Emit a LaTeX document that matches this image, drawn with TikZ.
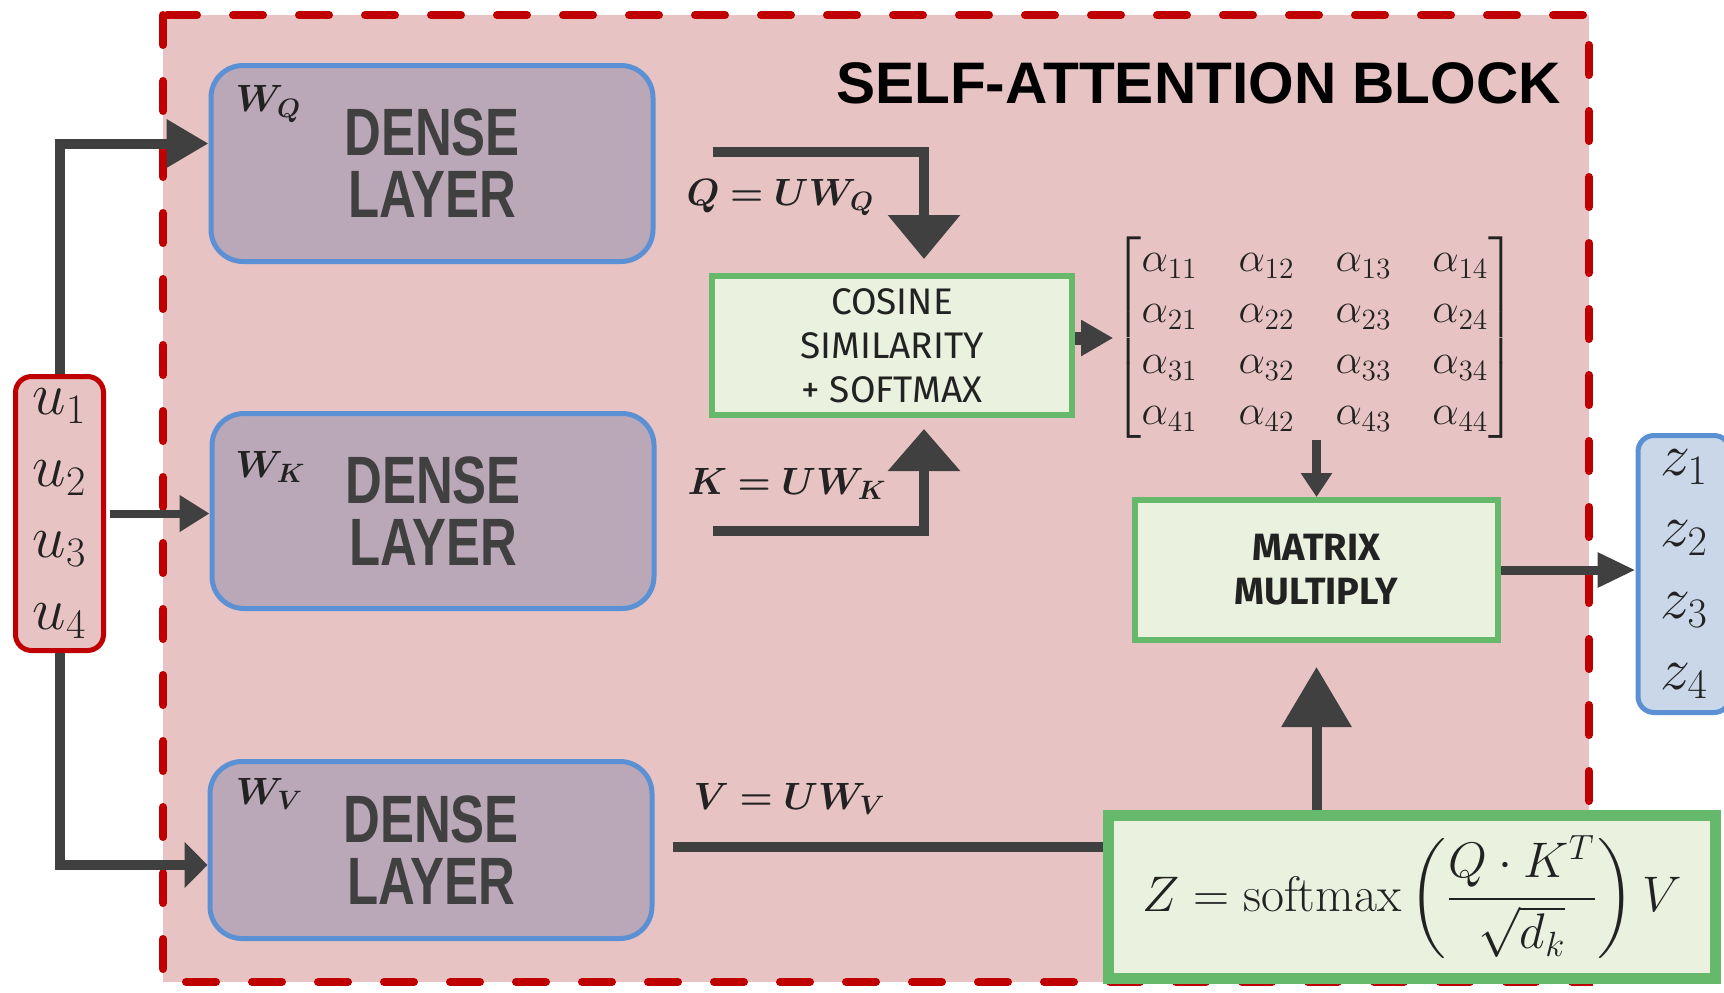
\documentclass[tikz,border=0pt]{standalone}
\usepackage{fix-cm}
\usepackage{amsmath, amssymb}
\usepackage{bm}
\usepackage{fontspec}
\usepackage{tikz}
\usetikzlibrary{arrows.meta, calc, positioning}
\newfontfamily\titlefont{Liberation Sans}
\newfontfamily\densefont[FakeStretch=0.76]{Liberation Sans}
\newfontfamily\boxfont{Fira Sans}

\definecolor{rosa}{HTML}{E8C3C3}
\definecolor{rossoBordo}{HTML}{C00000}
\definecolor{viola}{HTML}{BAA8B8}
\definecolor{blu}{HTML}{5B91D4}
\definecolor{verde}{HTML}{66B96A}
\definecolor{verdeChiaro}{HTML}{EAF1DE}
\definecolor{azzurro}{HTML}{C9D7E8}
\definecolor{grigio}{HTML}{404040}
\definecolor{inchiostro}{HTML}{222222}

\tikzset{
    dense/.style = {draw=blu, line width=2.5pt, fill=viola, rounded corners=16pt, minimum width=221pt, align=center, text=grigio, font=\densefont\bfseries\fontsize{33.5}{31}\selectfont},
    verdebox/.style = {draw=verde, line width=3pt, fill=verdeChiaro, align=center, text=inchiostro},
    vettore/.style = {line width=2.5pt, rounded corners=8pt, align=center, text=inchiostro, font=\fontsize{30}{35.7}\selectfont},
    freccia/.style = {draw=grigio, line width=5pt},
    etichetta/.style = {text=inchiostro, font=\fontsize{19}{23}\selectfont}
}

\begin{document}
\begin{tikzpicture}[x=0.5pt, y=-0.5pt]
    \useasboundingbox (0,0) rectangle (1724,992);

    % Blocco self-attention
    \draw[rossoBordo, line width=4pt, dash pattern=on 15pt off 18pt, line cap=round, fill=rosa] (163,15) rectangle (1589,982);
    \node[anchor=base east, font=\titlefont\bfseries\fontsize{29.3}{35}\selectfont] (Titolo) at (1568,103) {SELF-ATTENTION BLOCK};

    % Dense layers
    \node[dense, minimum height=98pt] (DenseQ) at (432,163.5) {DENSE\\LAYER};
    \node[dense, minimum height=97.5pt] (DenseK) at (433,511) {DENSE\\LAYER};
    \node[dense, minimum height=88.5pt] (DenseV) at (431,850) {DENSE\\LAYER};
    \node[etichetta] (PesoQ) at ([xshift=30pt,yshift=-20.5pt]DenseQ.north west) {$\bm{W_Q}$};
    \node[etichetta] (PesoK) at ([xshift=30.5pt,yshift=-28pt]DenseK.north west) {$\bm{W_K}$};
    \node[etichetta] (PesoV) at ([xshift=31pt,yshift=-17.5pt]DenseV.north west) {$\bm{W_V}$};

    % Ingresso e uscita
    \node[vettore, draw=rossoBordo, fill=rosa, minimum width=44pt, minimum height=137pt] (InU) at (59.5,513.5) {$u_1$\\$u_2$\\$u_3$\\$u_4$};
    \node[vettore, draw=blu, fill=azzurro, minimum width=46pt, minimum height=138.5pt] (OutZ) at (1684,574) {$z_1$\\$z_2$\\$z_3$\\$z_4$};

    % Blocchi verdi
    \node[verdebox, minimum width=180pt, minimum height=69.5pt, font=\boxfont\fontsize{18.5}{22}\selectfont] (Coseno) at (892,345.5) {COSINE\\SIMILARITY\\+ SOFTMAX};
    \node[verdebox, minimum width=181.5pt, minimum height=70pt, font=\boxfont\bfseries\fontsize{19}{22}\selectfont] (MatMul) at (1316.5,570) {MATRIX\\MULTIPLY};
    \node[verdebox, line width=5.5pt, minimum width=303.5pt, minimum height=81.5pt, font=\fontsize{25}{30}\selectfont] (Formula) at (1412,897) {$\displaystyle Z = \mathrm{softmax}\left(\frac{Q\cdot K^{T}}{\sqrt{d_k}}\right)V$};

    % Matrice dei pesi
    \node[inner sep=0pt, text=inchiostro, font=\fontsize{21}{25.5}\selectfont] (Alfa) at (1315,338) {\setlength\arraycolsep{10.25pt}$\begin{bmatrix}
        \alpha_{11} & \alpha_{12} & \alpha_{13} & \alpha_{14}\\
        \alpha_{21} & \alpha_{22} & \alpha_{23} & \alpha_{24}\\
        \alpha_{31} & \alpha_{32} & \alpha_{33} & \alpha_{34}\\
        \alpha_{41} & \alpha_{42} & \alpha_{43} & \alpha_{44}
    \end{bmatrix}$};

    % Frecce dall'ingresso
    \draw[freccia, -{Triangle[length=21pt,width=23pt]}] (InU.north) |- ([yshift=10pt]DenseQ.west);
    \draw[freccia, line width=4pt, -{Triangle[length=15pt,width=17.5pt]}] ([xshift=2pt]InU.east) -- (InU.east -| DenseK.west);
    \draw[freccia, -{Triangle[length=11.5pt,width=22.5pt]}] (InU.south) |- ([yshift=-7.5pt]DenseV.west);

    % Q, K, V
    \coordinate (OutQ) at ([xshift=28.5pt,yshift=6pt]DenseQ.east);
    \coordinate (OutK) at ([xshift=28pt,yshift=-10pt]DenseK.east);
    \coordinate (OutV) at ([xshift=9pt,yshift=1.5pt]DenseV.east);
    \draw[freccia, shorten >=7pt, -{Triangle[length=22pt,width=35pt]}] (OutQ) -| ([xshift=16pt]Coseno.north);
    \draw[freccia, shorten >=5.5pt, -{Triangle[length=21pt,width=35pt]}] (OutK) -| ([xshift=16pt]Coseno.south);
    \draw[freccia] (OutV) -- (OutV -| Formula.west);
    \node[etichetta, anchor=west] (LabelQ) at ([xshift=12pt,yshift=-17pt]DenseQ.east) {$\bm{Q = UW_Q}$};
    \node[etichetta, anchor=west] (LabelK) at ([xshift=12pt,yshift=13.5pt]DenseK.east) {$\bm{K = UW_K}$};
    \node[etichetta, anchor=west] (LabelV) at ([xshift=16pt,yshift=25.5pt]DenseV.east) {$\bm{V = UW_V}$};

    % Frecce verso l'uscita
    \draw[freccia, line width=6.5pt, -{Triangle[length=16pt,width=17pt]}] (Coseno.east |- Alfa.west) -- (Alfa.west);
    \draw[freccia, line width=4.5pt, -{Triangle[length=12pt,width=15pt]}] (Alfa.south -| MatMul.north) -- (MatMul.north);
    \draw[freccia, shorten >=12pt, -{Triangle[length=30pt,width=34pt]}] (Formula.north -| MatMul.south) -- (MatMul.south);
    \draw[freccia, line width=4.5pt, -{Triangle[length=19pt,width=16.5pt]}] (MatMul.east) -- (MatMul.east -| OutZ.west);
\end{tikzpicture}
\end{document}
